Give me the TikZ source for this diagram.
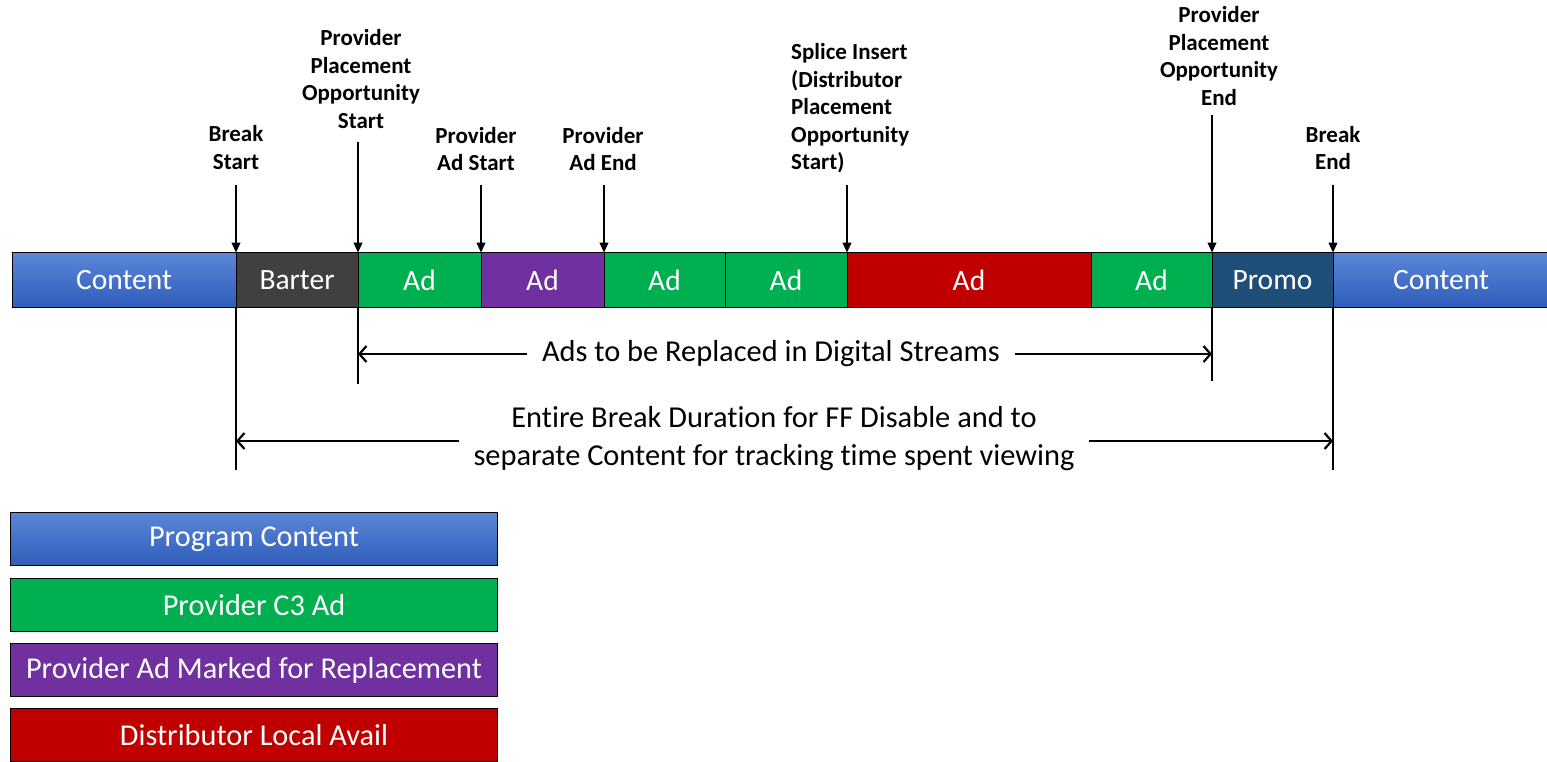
\documentclass[tikz,border=0pt]{standalone}
\usepackage{fontspec}
\setmainfont{Carlito}[Ligatures=NoCommon]
\usetikzlibrary{arrows.meta,calc}
\definecolor{cgreen}{HTML}{00B050}
\definecolor{cpurple}{HTML}{7030A0}
\definecolor{cred}{HTML}{C00000}
\definecolor{cbarter}{HTML}{404040}
\definecolor{cpromo}{HTML}{1F4E79}
\definecolor{cbluetop}{HTML}{5B87D6}
\definecolor{cbluebot}{HTML}{2F5DBA}
\tikzset{
  seg/.style={draw=black, line width=1pt, minimum height=55pt, inner sep=0pt, outer sep=0pt,
    anchor=west, text=white, font=\fontsize{29.5}{36}\selectfont},
  blueseg/.style={seg, top color=cbluetop, bottom color=cbluebot},
  lab/.style={align=center, font=\fontsize{23}{27.5}\selectfont\bfseries, inner sep=0pt},
  down/.style={line width=1.2pt, -{Triangle[width=9pt,length=10pt]}},
  tick/.style={line width=2.4pt},
  barb/.style={line width=2.2pt, -{Straight Barb[length=7pt,width=16pt,line width=2.2pt]}},
  midtext/.style={font=\fontsize{30.4}{38}\selectfont, align=center},
  legend/.style={draw=black, line width=1pt, minimum width=487pt, minimum height=53pt, inner sep=0pt,
    anchor=north west, text=white, font=\fontsize{30.3}{36}\selectfont},
}
\begin{document}
\begin{tikzpicture}[x=1pt,y=-1pt]
\useasboundingbox (0,0) rectangle (1547,761);
% timeline bar
\node[blueseg, minimum width=224pt] (c1) at (12,280) {Content};
\node[seg, fill=cbarter, minimum width=122pt] (barter) at (236,280) {Barter};
\node[seg, fill=cgreen, minimum width=123pt] (ad1) at (358,280) {Ad};
\node[seg, fill=cpurple, minimum width=123pt] (ad2) at (481,280) {Ad};
\node[seg, fill=cgreen, minimum width=121pt] (ad3) at (604,280) {Ad};
\node[seg, fill=cgreen, minimum width=122pt] (ad4) at (725,280) {Ad};
\node[seg, fill=cred, minimum width=244pt] (ad5) at (847,280) {Ad};
\node[seg, fill=cgreen, minimum width=121pt] (ad6) at (1091,280) {Ad};
\node[seg, fill=cpromo, minimum width=121pt] (promo) at (1212,280) {Promo};
\node[blueseg, minimum width=216pt] (c2) at (1333,280) {Content};
% top labels
\node[lab] (lbs) at (236,147.5) {Break\\Start};
\node[lab] (lpps) at (361,79) {Provider\\Placement\\Opportunity\\Start};
\node[lab] (lpas) at (476,149) {Provider\\Ad Start};
\node[lab] (lpae) at (603,149) {Provider\\Ad End};
\node[lab, align=left, anchor=west] (lsi) at (791,108.5) {Splice Insert\\(Distributor\\Placement\\Opportunity\\Start)};
\node[lab] (lppe) at (1219,56) {Provider\\Placement\\Opportunity\\End};
\node[lab] (lbe) at (1333,148) {Break\\End};
% arrow tops
\coordinate (tbs) at (236,185);
\coordinate (tpps) at (358,142);
\coordinate (tpas) at (481,185);
\coordinate (tpae) at (604,185);
\coordinate (tsi) at (847,185);
\coordinate (tppe) at (1212,115);
\coordinate (tbe) at (1333,185);
\draw[down] (tbs) -- (barter.north west);
\draw[down] (tpps) -- (ad1.north west);
\draw[down] (tpas) -- (ad2.north west);
\draw[down] (tpae) -- (ad3.north west);
\draw[down] (tsi) -- (ad5.north west);
\draw[down] (tppe) -- (promo.north west);
\draw[down] (tbe) -- (c2.north west);
% ticks below bar
\coordinate (bbs) at (236,470);
\coordinate (bpps) at (358,384);
\coordinate (bppe) at (1212,381);
\coordinate (bbe) at (1333,470);
\draw[tick] (barter.south west) -- (bbs);
\draw[tick] (ad1.south west) -- (bpps);
\draw[tick] (promo.south west) -- (bppe);
\draw[tick] (c2.south west) -- (bbe);
% span arrows
\node[midtext, inner xsep=15pt] (ads) at (771,354) {Ads to be Replaced in Digital Streams};
\draw[barb] (ads.west) -- (ads.west -| ad1.south west);
\draw[barb] (ads.east) -- (ads.east -| promo.south west);
\node[midtext, inner xsep=14pt] (brk) at (774,439) {Entire Break Duration for FF Disable and to\\separate Content for tracking time spent viewing};
\draw[barb] ([yshift=-2pt]brk.west) -- ([yshift=-2pt]brk.west -| barter.south west);
\draw[barb] ([yshift=-2pt]brk.east) -- ([yshift=-2pt]brk.east -| c2.south west);
% legend
\node[legend, top color=cbluetop, bottom color=cbluebot] (lg1) at (10,512) {Program Content};
\node[legend, fill=cgreen] (lg2) at (10,578) {Provider C3 Ad};
\node[legend, fill=cpurple] (lg3) at (10,643) {Provider Ad Marked for Replacement};
\node[legend, fill=cred] (lg4) at (10,708) {Distributor Local Avail};
\end{tikzpicture}
\end{document}
